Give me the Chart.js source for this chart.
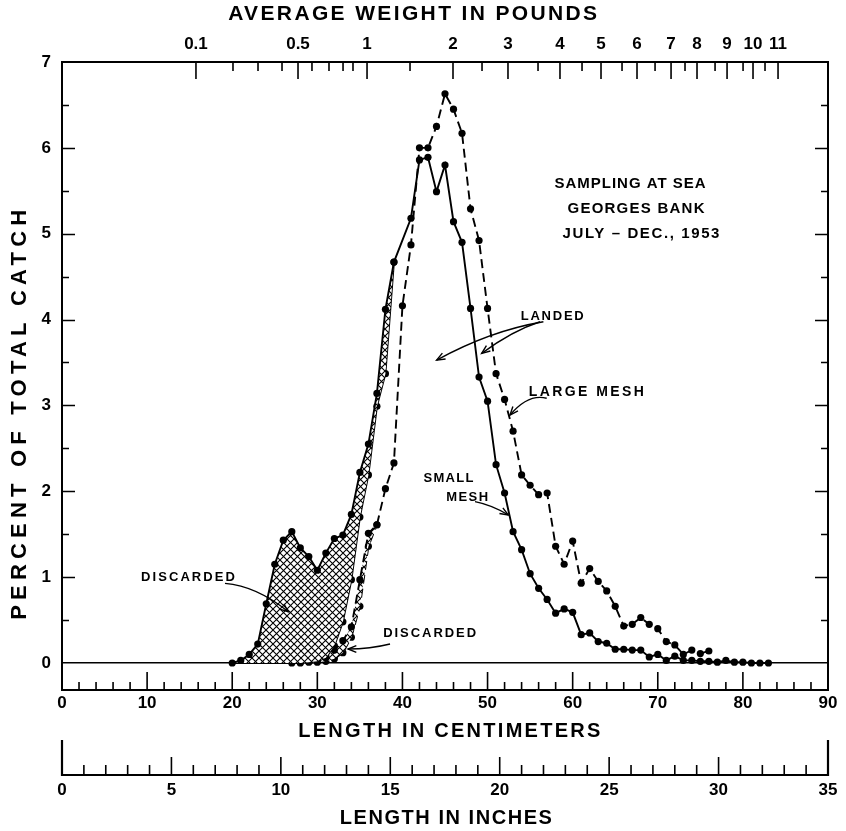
<!DOCTYPE html>
<html>
<head>
<meta charset="utf-8">
<script src="https://cdn.jsdelivr.net/npm/chart.js@4.4.1/dist/chart.umd.min.js"></script>
<style>
html,body{margin:0;padding:0;background:#fff;}
#wrap{width:846px;height:831px;}
</style>
</head>
<body>
<div id="wrap"><canvas id="c" width="846" height="831"></canvas></div>
<script>
// ---------------- DATA ----------------
// Small mesh: total catch (solid line, left boundary of the hatched "discarded" area)
const smallTotalCm  = [20,21,22,23,24,25,26,27,28,29,30,31,32,33,34,35,36,37,38,39,
                       41,42,43,44,45,46,47,48,49,50,51,52,53,54,55,56,57,58,59,60,
                       61,62,63,64,65,66,67,68,69,70,71,72,73,74,75,76,77,78,79,80,81,82,83];
const smallTotalPct = [0.00,0.03,0.10,0.22,0.69,1.15,1.43,1.53,1.34,1.24,1.08,1.28,1.45,1.49,1.73,2.22,2.55,3.14,4.12,4.67,
                       5.18,5.86,5.89,5.49,5.80,5.14,4.90,4.13,3.33,3.05,2.31,1.98,1.53,1.32,1.04,0.87,0.74,0.58,0.63,0.59,
                       0.33,0.35,0.25,0.23,0.16,0.16,0.15,0.15,0.07,0.10,0.03,0.08,0.03,0.03,0.02,0.02,0.01,0.03,0.01,0.01,0.00,0.00,0.00];
// Small mesh: landed part (solid line, right boundary of the hatched area)
const smallLandedCm  = [20,21,22,23,24,25,26,27,28,29,30,31,32,33,34,35,36,37,38,39];
const smallLandedPct = [0,0,0,0,0,0,0,0,0,0.01,0.02,0.06,0.20,0.48,0.97,1.70,2.19,2.99,3.37,4.67];
// Large mesh: total catch (dashed line)
const largeTotalCm  = [27,28,29,30,31,32,33,34,35,36,37,38,39,40,41,42,43,44,45,46,
                       47,48,49,50,51,52,53,54,55,56,57,58,59,60,61,62,63,64,65,66,
                       67,68,69,70,71,72,73,74,75,76];
const largeTotalPct = [0.00,0.01,0.02,0.04,0.08,0.15,0.26,0.42,0.97,1.51,1.61,2.03,2.33,4.16,4.87,6.00,6.00,6.25,6.63,6.45,
                       6.17,5.29,4.92,4.13,3.37,3.07,2.70,2.19,2.07,1.96,1.98,1.36,1.15,1.42,0.93,1.10,0.95,0.84,0.66,0.43,
                       0.45,0.53,0.45,0.40,0.25,0.21,0.10,0.15,0.11,0.14];
// Large mesh: landed part (small discarded area near the base)
const largeLandedCm  = [27,28,29,30,31,32,33,34,35,36,37];
const largeLandedPct = [0,0,0,0.01,0.02,0.05,0.12,0.30,0.66,1.36,1.61];

// Axis tick labels
const pctTicks   = [0,1,2,3,4,5,6,7];
const cmTicks    = [0,10,20,30,40,50,60,70,80,90];
const inchTicks  = [0,5,10,15,20,25,30,35];
const weightLabels  = ['0.1','0.5','1','2','3','4','5','6','7','8','9','10','11'];
const weightMajorCm = [15.74,27.73,35.84,45.94,52.40,58.51,63.33,67.56,71.56,74.61,78.14,81.19,84.13];
const weightMinorCm = [20.09,23.03,25.85,29.37,31.37,33.02,34.19,40.89,49.35,55.93,61.10,65.80,69.68,73.20,76.73,80.02,82.60];

// ---------------- STYLE / LAYOUT ----------------
const FONT = '"Liberation Sans", Arial, sans-serif';
const INK = '#000';
const canvas = document.getElementById('c');
const ctx0 = canvas.getContext('2d');

function makeHatch(size, lw) {
  const t = document.createElement('canvas');
  t.width = size; t.height = size;
  const g = t.getContext('2d');
  g.fillStyle = '#fff'; g.fillRect(0, 0, size, size);
  g.strokeStyle = INK; g.lineWidth = lw;
  g.beginPath();
  g.moveTo(0, 0); g.lineTo(size, size);
  g.moveTo(size, 0); g.lineTo(0, size);
  g.stroke();
  return ctx0.createPattern(t, 'repeat');
}
const hatch = makeHatch(7, 1.1);

const pts = (xs, ys) => xs.map((x, i) => ({x, y: ys[i]}));

const titles = [
  {t: 'AVERAGE WEIGHT IN POUNDS', cm: 41.2, py: 14, size: 21, w: 369},
  {t: 'LENGTH IN CENTIMETERS', cm: 45.5, py: 731, size: 20, w: 302},
  {t: 'LENGTH IN INCHES', cm: 45.1, py: 818, size: 20, w: 212}
];
const yTitle = {t: 'PERCENT OF TOTAL CATCH', px: 20, v: 2.89, size: 22, w: 410};

const notes = [
  {t: 'SAMPLING AT SEA', cm: 66.74, v: 5.58, size: 15, w: 151},
  {t: 'GEORGES BANK', cm: 67.44, v: 5.29, size: 15, w: 137},
  {t: 'JULY \u2013 DEC., 1953', cm: 68.03, v: 5.00, size: 15, w: 157},
  {t: 'LANDED', cm: 57.6, v: 4.04, size: 13, w: 63},
  {t: 'LARGE MESH', cm: 61.6, v: 3.16, size: 14, w: 115},
  {t: 'SMALL', cm: 45.4, v: 2.15, size: 13, w: 50},
  {t: 'MESH', cm: 47.6, v: 1.93, size: 13, w: 42},
  {t: 'DISCARDED', cm: 14.8, v: 1.00, size: 13, w: 94},
  {t: 'DISCARDED', cm: 43.2, v: 0.35, size: 13, w: 93}
];
const arrows = [
  {from: [56.56, 3.975], ctrl: [50.29, 3.87], to: [44.02, 3.528]},
  {from: [56.16, 3.975], ctrl: [52.90, 3.87], to: [49.31, 3.607]},
  {from: [56.95, 3.083], ctrl: [54.79, 3.14], to: [52.64, 2.888]},
  {from: [48.53, 1.879], ctrl: [50.50, 1.84], to: [52.44, 1.724]},
  {from: [19.15, 0.928], ctrl: [22.87, 0.897], to: [26.59, 0.597]},
  {from: [38.54, 0.221], ctrl: [36.20, 0.163], to: [33.60, 0.163]}
];

function spaced(ctx, text, cx, cy, size, width) {
  ctx.font = 'bold ' + size + 'px ' + FONT;
  ctx.letterSpacing = '0px';
  const w = ctx.measureText(text).width;
  const sp = text.length > 1 ? Math.max(0, (width - w) / (text.length - 1)) : 0;
  ctx.letterSpacing = sp.toFixed(2) + 'px';
  ctx.textAlign = 'left';
  ctx.textBaseline = 'middle';
  ctx.fillText(text, cx - (w + sp * (text.length - 1)) / 2, cy);
  ctx.letterSpacing = '0px';
}

const deco = {
  id: 'deco',
  afterDraw(chart) {
    const ctx = chart.ctx;
    const {x, y, x2, xin} = chart.scales;
    const ca = chart.chartArea;
    ctx.save();
    ctx.strokeStyle = INK;
    ctx.fillStyle = INK;
    ctx.lineWidth = 1.6;
    ctx.beginPath();
    // percent ticks, inward on both sides
    for (let v = 0.5; v < 7; v += 0.5) {
      const py = Math.round(y.getPixelForValue(v)) + 0.5;
      const len = Number.isInteger(v) ? 13 : 7;
      ctx.moveTo(ca.left, py); ctx.lineTo(ca.left + len, py);
      ctx.moveTo(ca.right, py); ctx.lineTo(ca.right - len, py);
    }
    // weight ticks hanging from the top border
    weightMajorCm.forEach(c => { const px = x2.getPixelForValue(c); ctx.moveTo(px, ca.top); ctx.lineTo(px, ca.top + 17); });
    weightMinorCm.forEach(c => { const px = x2.getPixelForValue(c); ctx.moveTo(px, ca.top); ctx.lineTo(px, ca.top + 9); });
    // centimetre ticks pointing up from the bottom axis
    for (let c = 2; c < 90; c += 2) {
      const px = x.getPixelForValue(c);
      const len = c % 10 === 0 ? 18 : 8;
      ctx.moveTo(px, ca.bottom); ctx.lineTo(px, ca.bottom - len);
    }
    // inch ticks
    const iy = xin.top;
    for (let i = 1; i < 35; i++) {
      const px = xin.getPixelForValue(i);
      const len = i % 5 === 0 ? 18 : 10;
      ctx.moveTo(px, iy); ctx.lineTo(px, iy - len);
    }
    ctx.stroke();
    ctx.lineWidth = 2.2;
    ctx.beginPath();
    [0, 35].forEach(i => { const px = xin.getPixelForValue(i); ctx.moveTo(px, iy + 1); ctx.lineTo(px, iy - 35); });
    ctx.stroke();

    // axis titles
    titles.forEach(o => spaced(ctx, o.t, x.getPixelForValue(o.cm), o.py, o.size, o.w));
    ctx.save();
    ctx.translate(yTitle.px, y.getPixelForValue(yTitle.v));
    ctx.rotate(-Math.PI / 2);
    spaced(ctx, yTitle.t, 0, 0, yTitle.size, yTitle.w);
    ctx.restore();

    // annotations
    notes.forEach(o => spaced(ctx, o.t, x.getPixelForValue(o.cm), y.getPixelForValue(o.v), o.size, o.w));
    ctx.lineWidth = 1.4;
    arrows.forEach(a => {
      const p0 = [x.getPixelForValue(a.from[0]), y.getPixelForValue(a.from[1])];
      const pc = [x.getPixelForValue(a.ctrl[0]), y.getPixelForValue(a.ctrl[1])];
      const p1 = [x.getPixelForValue(a.to[0]), y.getPixelForValue(a.to[1])];
      ctx.beginPath();
      ctx.moveTo(p0[0], p0[1]);
      ctx.quadraticCurveTo(pc[0], pc[1], p1[0], p1[1]);
      ctx.stroke();
      const ang = Math.atan2(p1[1] - pc[1], p1[0] - pc[0]);
      const hl = 9, ha = 0.38;
      ctx.beginPath();
      ctx.moveTo(p1[0] - hl * Math.cos(ang - ha), p1[1] - hl * Math.sin(ang - ha));
      ctx.lineTo(p1[0], p1[1]);
      ctx.lineTo(p1[0] - hl * Math.cos(ang + ha), p1[1] - hl * Math.sin(ang + ha));
      ctx.stroke();
    });
    ctx.restore();
  }
};

const tickFont = {family: FONT, size: 17, weight: 'bold'};
const border = {display: true, color: INK, width: 2};
const noGrid = {display: false, drawTicks: false};
const lineBase = {borderColor: INK, borderWidth: 1.9, pointRadius: 3.6, pointBorderWidth: 0,
                  pointBackgroundColor: INK, pointHoverRadius: 3.6, tension: 0};

new Chart(canvas, {
  type: 'line',
  data: {
    datasets: [
      Object.assign({}, lineBase, {label: 'Small mesh (total)', data: pts(smallTotalCm, smallTotalPct),
        fill: {target: 1}, backgroundColor: hatch}),
      Object.assign({}, lineBase, {label: 'Small mesh (landed)', data: pts(smallLandedCm, smallLandedPct),
        fill: false, pointRadius: smallLandedCm.map(c => c < 28 ? 0 : 3.6)}),
      Object.assign({}, lineBase, {label: 'Large mesh (total)', data: pts(largeTotalCm, largeTotalPct),
        borderDash: [9, 5], fill: {target: 3}, backgroundColor: hatch}),
      Object.assign({}, lineBase, {label: 'Large mesh (landed)', data: pts(largeLandedCm, largeLandedPct),
        borderDash: [9, 5], fill: false, pointRadius: largeLandedPct.map(v => v === 0 ? 0 : 3.6)})
    ]
  },
  options: {
    responsive: false,
    animation: false,
    devicePixelRatio: 1,
    layout: {padding: 0},
    events: [],
    plugins: {legend: {display: false}, tooltip: {enabled: false}},
    scales: {
      x: {
        type: 'linear', position: 'bottom', min: 0, max: 90,
        afterBuildTicks: s => { s.ticks = cmTicks.map(v => ({value: v})); },
        ticks: {font: tickFont, color: INK, padding: 3, autoSkip: false, maxRotation: 0},
        grid: noGrid, border: border,
        afterFit: s => { s.height = 85; }
      },
      xin: {
        type: 'linear', position: 'bottom', min: 0, max: 35,
        afterBuildTicks: s => { s.ticks = inchTicks.map(v => ({value: v})); },
        ticks: {font: tickFont, color: INK, padding: 5, autoSkip: false, maxRotation: 0},
        grid: noGrid, border: border,
        afterFit: s => { s.height = 56; }
      },
      x2: {
        type: 'linear', position: 'top', min: 0, max: 90,
        afterBuildTicks: s => { s.ticks = weightMajorCm.map(v => ({value: v})); },
        ticks: {font: tickFont, color: INK, padding: 7, autoSkip: false, maxRotation: 0,
                callback: (v, i) => weightLabels[i]},
        grid: noGrid, border: border,
        afterFit: s => { s.height = 62; }
      },
      y: {
        type: 'linear', position: 'left', min: -0.3145, max: 7,
        afterBuildTicks: s => { s.ticks = pctTicks.map(v => ({value: v})); },
        ticks: {font: tickFont, color: INK, padding: 11, autoSkip: false},
        grid: {display: true, drawTicks: false, lineWidth: 1.6,
               color: c => (c.tick && c.tick.value === 0) ? INK : 'rgba(0,0,0,0)'},
        border: border,
        afterFit: s => { s.width = 62; }
      },
      y2: {
        type: 'linear', position: 'right', min: -0.3145, max: 7,
        ticks: {display: false},
        grid: noGrid, border: border,
        afterFit: s => { s.width = 18; }
      }
    }
  },
  plugins: [deco]
});
</script>
</body>
</html>
